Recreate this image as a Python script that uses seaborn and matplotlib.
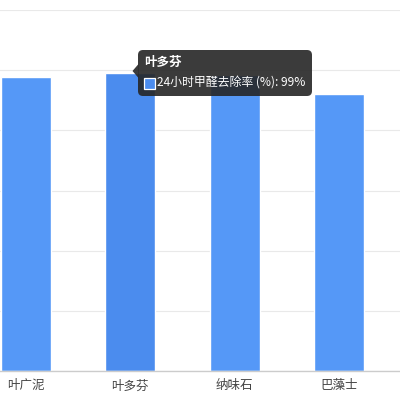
import matplotlib
matplotlib.use("Agg")
import matplotlib.pyplot as plt
import seaborn as sns
import pandas as pd
from matplotlib.patches import FancyBboxPatch, Polygon, Rectangle
from matplotlib.transforms import Affine2D

categories = ["叶广泥", "叶多芬", "纳味石", "巴藻士"]
values = [97.8, 99, 98.5, 92]
series_name = "24小时甲醛去除率 (%)"
hover_category = "叶多芬"
hover_label = "99%"

sns.set_theme(style="white")
plt.rcParams['font.family'] = ['Noto Sans CJK SC', 'DejaVu Sans']

df = pd.DataFrame({"cat": categories, "val": values})
base_color = "#5598f7"
hover_color = "#4b8cee"
palette = {c: (hover_color if c == hover_category else base_color) for c in categories}

fig = plt.figure(figsize=(4, 4), dpi=100)
# axes extends beyond the left edge (cropped chart)
left_px = -26.2
unit = 104.33
ax = fig.add_axes([left_px / 400, 29 / 400, (4.1 * unit) / 400, 361 / 400])
sns.barplot(data=df, x="cat", y="val", hue="cat", palette=palette, legend=False,
            width=0.48, ax=ax, saturation=1)
ax.set_xlim(-0.5, 3.6)
ax.set_ylim(0, 120)
ax.set_yticks([0, 20, 40, 60, 80, 100, 120])
ax.yaxis.grid(True, color="#e9e9e9", linewidth=0.8)
ax.set_axisbelow(True)
ax.set_yticklabels([])
ax.set_xlabel("")
ax.set_ylabel("")
for s in ["top", "right", "left"]:
    ax.spines[s].set_visible(False)
ax.spines["bottom"].set_color("#cccccc")
ax.spines["bottom"].set_linewidth(1)
ax.tick_params(axis="x", length=0, pad=6, labelsize=9, labelcolor="#444444")
ax.tick_params(axis="y", length=0)

# tooltip in pixel coordinates (y up)
pix = Affine2D().scale(1 / 400) + fig.transFigure
tip_color = "#262626"
box = FancyBboxPatch((138, 304), 174, 46, boxstyle="round,pad=0,rounding_size=5",
                     transform=pix, facecolor=tip_color, edgecolor="none", alpha=0.9,
                     zorder=10, clip_on=False)
fig.patches.append(box)
tri = Polygon([(138.5, 336), (132.5, 329), (138.5, 322)], closed=True, transform=pix,
              facecolor=tip_color, edgecolor="none", alpha=0.9, zorder=10, clip_on=False)
fig.patches.append(tri)
sq = Rectangle((143.5, 311.5), 11, 11, transform=pix, facecolor=hover_color,
               edgecolor="white", linewidth=0.9, zorder=11, clip_on=False)
fig.patches.append(sq)
fig.text(144 / 400, 338 / 400, hover_category, color="white", fontsize=9,
         fontweight="bold", va="center", ha="left", zorder=12)
fig.text(157 / 400, 317 / 400, f"{series_name}: {hover_label}", color="white",
         fontsize=8.6, va="center", ha="left", zorder=12)

fig.savefig("out.png", dpi=100)
